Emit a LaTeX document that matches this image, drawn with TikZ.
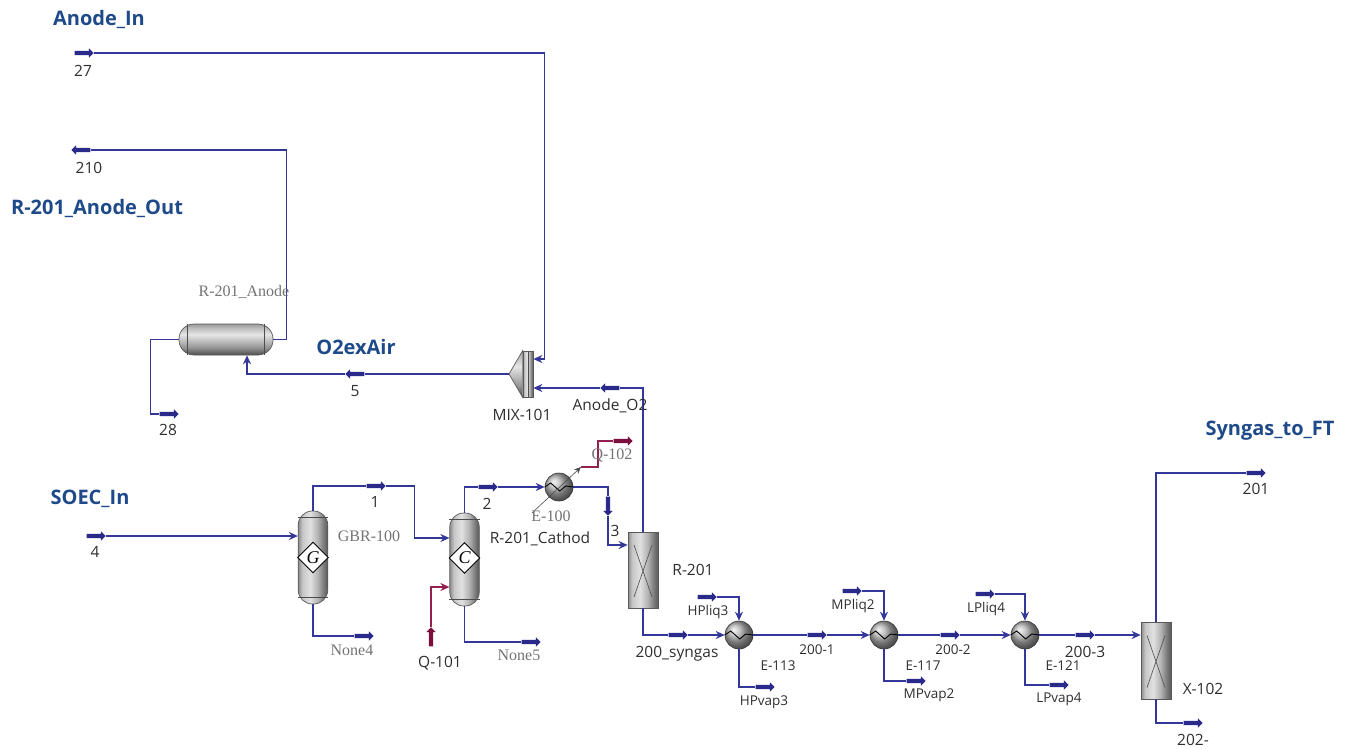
\documentclass[tikz,border=0pt]{standalone}
\usepackage{fontspec}
\setmainfont{Open Sans}
\newfontfamily\plantserif{Liberation Serif}
\usepackage{xcolor}
\usetikzlibrary{arrows.meta,positioning,shapes.geometric,shapes.arrows,calc}
\definecolor{flowblue}{HTML}{34379A}
\definecolor{tagblue}{HTML}{2A2A8A}
\definecolor{heatred}{HTML}{93214F}
\definecolor{tagred}{HTML}{7D0F3E}
\definecolor{hdrblue}{HTML}{1F4A8A}
\pgfdeclarehorizontalshading{colshade}{100bp}{color(0bp)=(black!45); color(25bp)=(black!45); color(32bp)=(black!22); color(45bp)=(black!12); color(58bp)=(black!30); color(68bp)=(black!52); color(75bp)=(black!65); color(100bp)=(black!65)}
\pgfdeclareverticalshading{tankshade}{100bp}{color(0bp)=(black!70); color(25bp)=(black!70); color(37bp)=(black!42); color(58bp)=(black!10); color(68bp)=(black!25); color(75bp)=(black!40); color(100bp)=(black!40)}
\tikzset{
  flow/.style={draw=flowblue,line width=1.5pt},
  flowin/.style={flow,-{Stealth[length=9pt,width=8pt,inset=3pt]}},
  heat/.style={draw=heatred,line width=1.5pt},
  heatin/.style={heat,-{Stealth[length=9pt,width=8pt,inset=3pt]}},
  tag/.style={single arrow,draw=none,fill=tagblue,inner xsep=0pt,inner ysep=2pt,minimum height=19pt,minimum width=9pt,single arrow head extend=2.5pt},
  redtag/.style={tag,fill=tagred},
  lbl/.style={font=\fontsize{15.5}{18}\selectfont,text=black!82,inner sep=0pt},
  small/.style={lbl,font=\fontsize{13.5}{16}\selectfont},
  sim/.style={font=\plantserif\fontsize{16}{18}\selectfont,text=black!55,inner sep=0pt},
  hdr/.style={font=\bfseries\fontsize{20}{23}\selectfont,text=hdrblue,inner sep=0pt},
  column/.style={draw=black!65,line width=0.7pt,shading=colshade,rounded corners=14pt,minimum width=29.5pt,minimum height=93pt,inner sep=0pt},
  tankunit/.style={draw=black!65,line width=0.7pt,shading=tankshade,rounded corners=15pt,minimum width=94pt,minimum height=31pt,inner sep=0pt},
  reactor/.style={draw=black!65,line width=0.7pt,shading=colshade,minimum width=30pt,minimum height=76pt,inner sep=0pt},
  hx/.style={circle,draw=black!80,line width=0.6pt,ball color=black!30,minimum size=28pt,inner sep=0pt},
  badge/.style={diamond,draw=black,line width=0.9pt,fill=white,minimum size=31pt,inner sep=0pt,font=\plantserif\itshape\fontsize{18}{18}\selectfont},
  thin/.style={draw=black!70,line width=0.6pt}
}
\begin{document}
\begin{tikzpicture}[x=1pt,y=-1pt]
  \useasboundingbox (0,0) rectangle (1350,748);
  % units
  \node[tankunit] (tank) at (226,339.5) {};
  \node[column] (gbr) at (313,557.5) {};
  \node[column] (cath) at (464.5,559.5) {};
  \node[reactor] (r201) at (643,570) {};
  \node[reactor,minimum height=77pt] (x102) at (1156,660.5) {};
  \node[draw=black!65,line width=0.7pt,shading=colshade,minimum width=10pt,minimum height=46pt,inner sep=0pt] (mix) at (528,374) {};
  \coordinate (mixtip) at (509,374);
  \draw[black!65,line width=0.7pt,shading=tankshade] (mix.north west) -- (mixtip) -- (mix.south west) -- cycle;
  \node[hx] (e100) at (559,487) {};
  \node[hx] (e113) at (739,635) {};
  \node[hx] (e117) at (884,635) {};
  \node[hx] (e121) at (1025,635) {};
  \node[badge] (gbadge) at (gbr.center) {G};
  \node[badge] (cbadge) at (464.5,558) {C};

  \foreach \col in {gbr,cath}{
    \draw[thin] ([yshift=-7pt]\col.north west) -- ([yshift=-7pt]\col.north east);
    \draw[thin] ([yshift=7pt]\col.south west) -- ([yshift=7pt]\col.south east);
  }
  \foreach \re in {r201,x102}{
    \draw[thin] ([shift={(-9pt,25pt)}]\re.center) -- ([shift={(9pt,-27pt)}]\re.center);
    \draw[thin] ([shift={(9pt,25pt)}]\re.center) -- ([shift={(-9pt,-27pt)}]\re.center);
  }
  \draw[thin] ([xshift=9pt]tank.north west) -- ([xshift=9pt]tank.south west);
  \draw[thin] ([xshift=-9pt]tank.north east) -- ([xshift=-9pt]tank.south east);
  \draw[thin] (mix.north) -- (mix.south);
  \foreach \ex in {e100,e113,e117,e121}{
    \draw[black,line width=0.9pt] (\ex.west) -- ++(6,-4) -- ++(9,8) -- ++(6,-5) -- (\ex.east);
  }

  % stream tags
  \node[tag] (t27) at (83,53) {};
  \node[tag,rotate=180] (t210) at (82,150) {};
  \node[tag] (t28) at (168,414) {};
  \node[tag,rotate=180] (t5) at (356,374) {};
  \node[tag,rotate=180] (tao) at (611,388) {};
  \node[tag] (t4) at (95,536) {};
  \node[tag] (t1) at (375,486) {};
  \node[tag] (t2) at (487,487) {};
  \node[tag,rotate=-90] (t3) at (608,505) {};
  \node[tag] (tn4) at (363,636) {};
  \node[tag] (tn5) at (530,642) {};
  \node[redtag,rotate=90] (tq101) at (431,638) {};
  \node[redtag] (tq102) at (622,441) {};
  \node[tag] (t200) at (677,635) {};
  \node[tag] (thpl) at (706,597) {};
  \node[tag] (thpv) at (764,687) {};
  \node[tag] (t2001) at (816,635) {};
  \node[tag] (tmpl) at (851,591) {};
  \node[tag] (tmpv) at (915,681) {};
  \node[tag] (t2002) at (949,635) {};
  \node[tag] (tlpl) at (984,594) {};
  \node[tag] (tlpv) at (1058,685) {};
  \node[tag] (t2003) at (1084,635) {};
  \node[tag] (t201) at (1255,473) {};
  \node[tag] (t202) at (1192,723) {};

  % streams
  \draw[flowin] (t27) -| ([xshift=11pt,yshift=15pt]mix.east) -- ([yshift=15pt]mix.east);
  \draw[flowin] (r201.north) |- (tao) -- ([yshift=-14pt]mix.east);
  \draw[flowin] (mixtip) -- (t5) -| ([xshift=21pt]tank.south);
  \draw[flow] (tank.west) -- ++(-28,0) |- (t28);
  \draw[flow] (tank.east) -- ++(13,0) |- (t210);
  \draw[flowin] (t4) -- (t4 -| gbr.west);
  \draw[flowin] (gbr.north) |- (t1) -| ([xshift=-35pt,yshift=21.5pt]cath.west) -- ([yshift=21.5pt]cath.west);
  \draw[flow] (gbr.south) |- (tn4);
  \draw[flowin] (cath.north) |- (t2) -- (e100);
  \draw[flow] (cath.south) |- (tn5);
  \draw[heatin] (tq101) |- ([yshift=-27.5pt]cath.west);
  \draw[flowin] (e100) -| (t3) |- ([yshift=25pt]r201.west);
  \draw[flowin] (r201.south) |- (t200) -- (e113);
  \draw[flowin] (thpl) -| (e113);
  \draw[flow] (e113) |- (thpv);
  \draw[flowin] (e113) -- (t2001) -- (e117);
  \draw[flowin] (tmpl) -| (e117);
  \draw[flow] (e117) |- (tmpv);
  \draw[flowin] (e117) -- (t2002) -- (e121);
  \draw[flowin] (tlpl) -| (e121);
  \draw[flow] (e121) |- (tlpv);
  \draw[flowin] (e121) -- (t2003) -- (t2003 -| x102.west);
  \draw[flow] (x102.north) |- (t201);
  \draw[flow] (x102.south) |- (t202);

  % heat duty of E-100
  \coordinate (qtail) at (532,513);
  \coordinate (qhead) at (581,467);
  \draw[black!70,line width=0.6pt,-{Stealth[length=7pt,width=6pt]}] (qtail) -- (qhead);
  \draw[heat] (qhead) -- ++(17,0) |- (tq102);

  % labels
  \node[hdr] (hanode) at (99,19) {Anode\_In};
  \node[hdr] (hout) at (97,208) {R-201\_Anode\_Out};
  \node[hdr] (hair) at (356,347) {O2exAir};
  \node[hdr] (hsoec) at (90,499) {SOEC\_In};
  \node[hdr] (hft) at (1270,431) {Syngas\_to\_FT};
  \node[lbl] (l27) at (83,71) {27};
  \node[lbl] (l210) at (89,168) {210};
  \node[lbl] (l28) at (168,430) {28};
  \node[lbl] (l5) at (355,391) {5};
  \node[lbl] (lmix) at (522,415) {MIX-101};
  \node[lbl] (lao) at (610,406) {Anode\_O2};
  \node[lbl] (l4) at (95,552) {4};
  \node[lbl] (l1) at (375,502) {1};
  \node[lbl] (l2) at (487,504) {2};
  \node[lbl] (l3) at (615,531) {3};
  \node[lbl] (lcath) at (540,539) {R-201\_Cathod};
  \node[lbl] (lq101) at (440,663) {Q-101};
  \node[lbl] (lr201) at (693,570) {R-201};
  \node[lbl] (l200) at (677,654) {200\_syngas};
  \node[small] (lhpl) at (708,612) {HPliq3};
  \node[small] (le113) at (778,666) {E-113};
  \node[small] (lhpv) at (764,702) {HPvap3};
  \node[small] (l2001) at (817,650) {200-1};
  \node[small] (lmpl) at (853,606) {MPliq2};
  \node[small] (le117) at (923,666) {E-117};
  \node[small] (lmpv) at (929,695) {MPvap2};
  \node[small] (l2002) at (953,650) {200-2};
  \node[small] (llpl) at (986,609) {LPliq4};
  \node[small] (le121) at (1063,666) {E-121};
  \node[small] (llpv) at (1059,699) {LPvap4};
  \node[lbl] (l2003) at (1085,652) {200-3};
  \node[lbl] (lx102) at (1203,689) {X-102};
  \node[lbl] (l201) at (1256,489) {201};
  \node[lbl] (l202) at (1193,740) {202-};
  \node[sim] (lanode) at (244,292) {R-201\_Anode};
  \node[sim] (lgbr) at (369,536) {GBR-100};
  \node[sim] (ln4) at (352,650) {None4};
  \node[sim] (ln5) at (519,655) {None5};
  \node[sim] (le100) at (551,516) {E-100};
  \node[sim] (lq102) at (612,455) {Q-102};
\end{tikzpicture}
\end{document}
